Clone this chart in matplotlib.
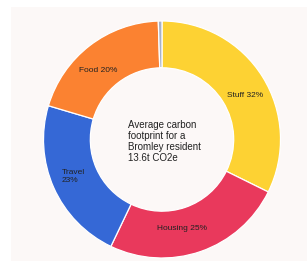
import matplotlib.pyplot as plt
from matplotlib.patches import Rectangle

# carbon footprint shares (%), clockwise from the top
categories = ["Stuff", "Housing", "Travel", "Food", "Other"]
shares = [32.3, 24.8, 22.5, 19.9, 0.5]
labels = ["Stuff 32%", "Housing 25%", "Travel\n23%", "Food 20%", ""]
centre_text = "Average carbon\nfootprint for a\nBromley resident\n13.6t CO2e"

colors = ["#fdd233", "#e9395c", "#3568d6", "#fb8231", "#a7b1c6"]
label_pos = [(0.70, 0.37), (0.17, -0.75), (-0.845, -0.31), (-0.54, 0.58)]
label_ha = ["center", "center", "left", "center"]

plt.rcParams['font.family'] = ['Liberation Sans', 'DejaVu Sans']

fig = plt.figure(figsize=(3.08, 2.61), dpi=100)
fig.patch.set_facecolor("white")

# light panel behind the chart
bg = fig.add_axes([0, 0, 1, 1], zorder=-5)
bg.add_patch(Rectangle((11 / 308, 0), 296 / 308, 254 / 261,
                       facecolor="#fcf8f7", edgecolor="none"))
bg.set_xlim(0, 1)
bg.set_ylim(0, 1)
bg.axis("off")

ax = fig.add_axes([43.5 / 308, 3 / 261, 237 / 308, 237 / 261])
ax.set_facecolor("none")
ax.pie(shares, colors=colors, startangle=90, counterclock=False, radius=1,
       wedgeprops=dict(width=0.395, edgecolor="white", linewidth=0.9))

for (x, y), txt, ha in zip(label_pos, labels, label_ha):
    ax.text(x, y, txt, ha=ha, va="center", fontsize=6, color="#222222",
            linespacing=1.15)

ax.text(-0.29, -0.02, centre_text, ha="left", va="center", fontsize=7,
        color="#222222", linespacing=1.12)

ax.set_xlim(-1, 1)
ax.set_ylim(-1, 1)
ax.set_aspect("equal")
ax.axis("off")

fig.savefig("out.png", dpi=100)
